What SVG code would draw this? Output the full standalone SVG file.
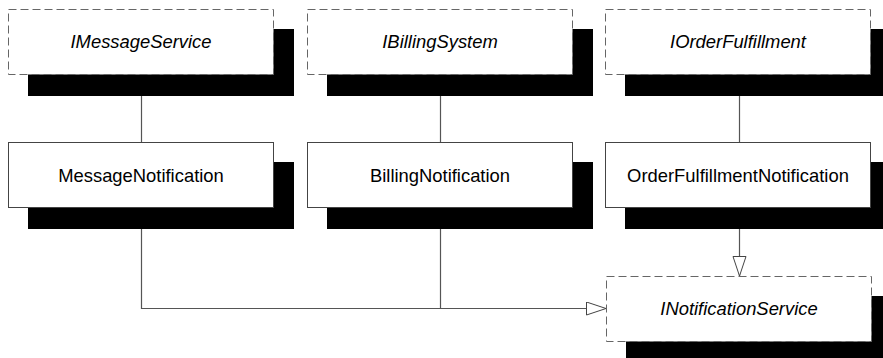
<svg xmlns="http://www.w3.org/2000/svg" width="883" height="358" viewBox="0 0 883 358">
<defs>
<style>
.shadow{fill:#000}
.iface{fill:#fff;stroke:#666;stroke-width:1;stroke-dasharray:8,4}
.cls{fill:#fff;stroke:#444;stroke-width:1}
.t{font-family:"Liberation Sans",Arial,sans-serif;font-size:18.4px;fill:#000;text-anchor:middle}
.it{font-style:italic}
.c{fill:none;stroke:#555;stroke-width:1.2}
</style>
<marker id="tri" markerUnits="userSpaceOnUse" markerWidth="22" markerHeight="16" refX="20" refY="7" orient="auto" viewBox="0 0 22 16">
<polygon points="0.5,0.5 20,7 0.5,13.5" fill="#fff" stroke="#444" stroke-width="1"/>
</marker>
</defs>
<rect width="883" height="358" fill="#fff"/>
<g id="connectors">
<line class="c" x1="141.5" y1="75" x2="141.5" y2="142"/>
<line class="c" x1="440.5" y1="75" x2="440.5" y2="142"/>
<line class="c" x1="739.5" y1="75" x2="739.5" y2="142"/>
<polyline class="c" points="141.5,208 141.5,308.5 606,308.5" marker-end="url(#tri)"/>
<line class="c" x1="440.5" y1="208" x2="440.5" y2="308.5"/>
<line class="c" x1="739.5" y1="208" x2="739.5" y2="276" marker-end="url(#tri)"/>
</g>
<g id="IMessageService">
<rect class="shadow" x="28" y="29" width="266" height="67"/>
<rect class="iface" x="8.5" y="9.5" width="265" height="65"/>
<text class="t it" x="141" y="48">IMessageService</text>
</g>
<g id="IBillingSystem">
<rect class="shadow" x="327" y="29" width="266" height="67"/>
<rect class="iface" x="307.5" y="9.5" width="265" height="65"/>
<text class="t it" x="440" y="48">IBillingSystem</text>
</g>
<g id="IOrderFulfillment">
<rect class="shadow" x="625" y="29" width="266" height="67"/>
<rect class="iface" x="605.5" y="9.5" width="265" height="65"/>
<text class="t it" x="738" y="48">IOrderFulfillment</text>
</g>
<g id="MessageNotification">
<rect class="shadow" x="28" y="162" width="266" height="67"/>
<rect class="cls" x="8.5" y="142.5" width="265" height="65"/>
<text class="t" x="141" y="181.5">MessageNotification</text>
</g>
<g id="BillingNotification">
<rect class="shadow" x="327" y="162" width="266" height="67"/>
<rect class="cls" x="307.5" y="142.5" width="265" height="65"/>
<text class="t" x="440" y="181.5">BillingNotification</text>
</g>
<g id="OrderFulfillmentNotification">
<rect class="shadow" x="625" y="162" width="266" height="67"/>
<rect class="cls" x="605.5" y="142.5" width="265" height="65"/>
<text class="t" x="738" y="181.5">OrderFulfillmentNotification</text>
</g>
<g id="INotificationService">
<rect class="shadow" x="626" y="296" width="266" height="67"/>
<rect class="iface" x="606.5" y="276.5" width="265" height="65"/>
<text class="t it" x="739" y="315">INotificationService</text>
</g>
</svg>
